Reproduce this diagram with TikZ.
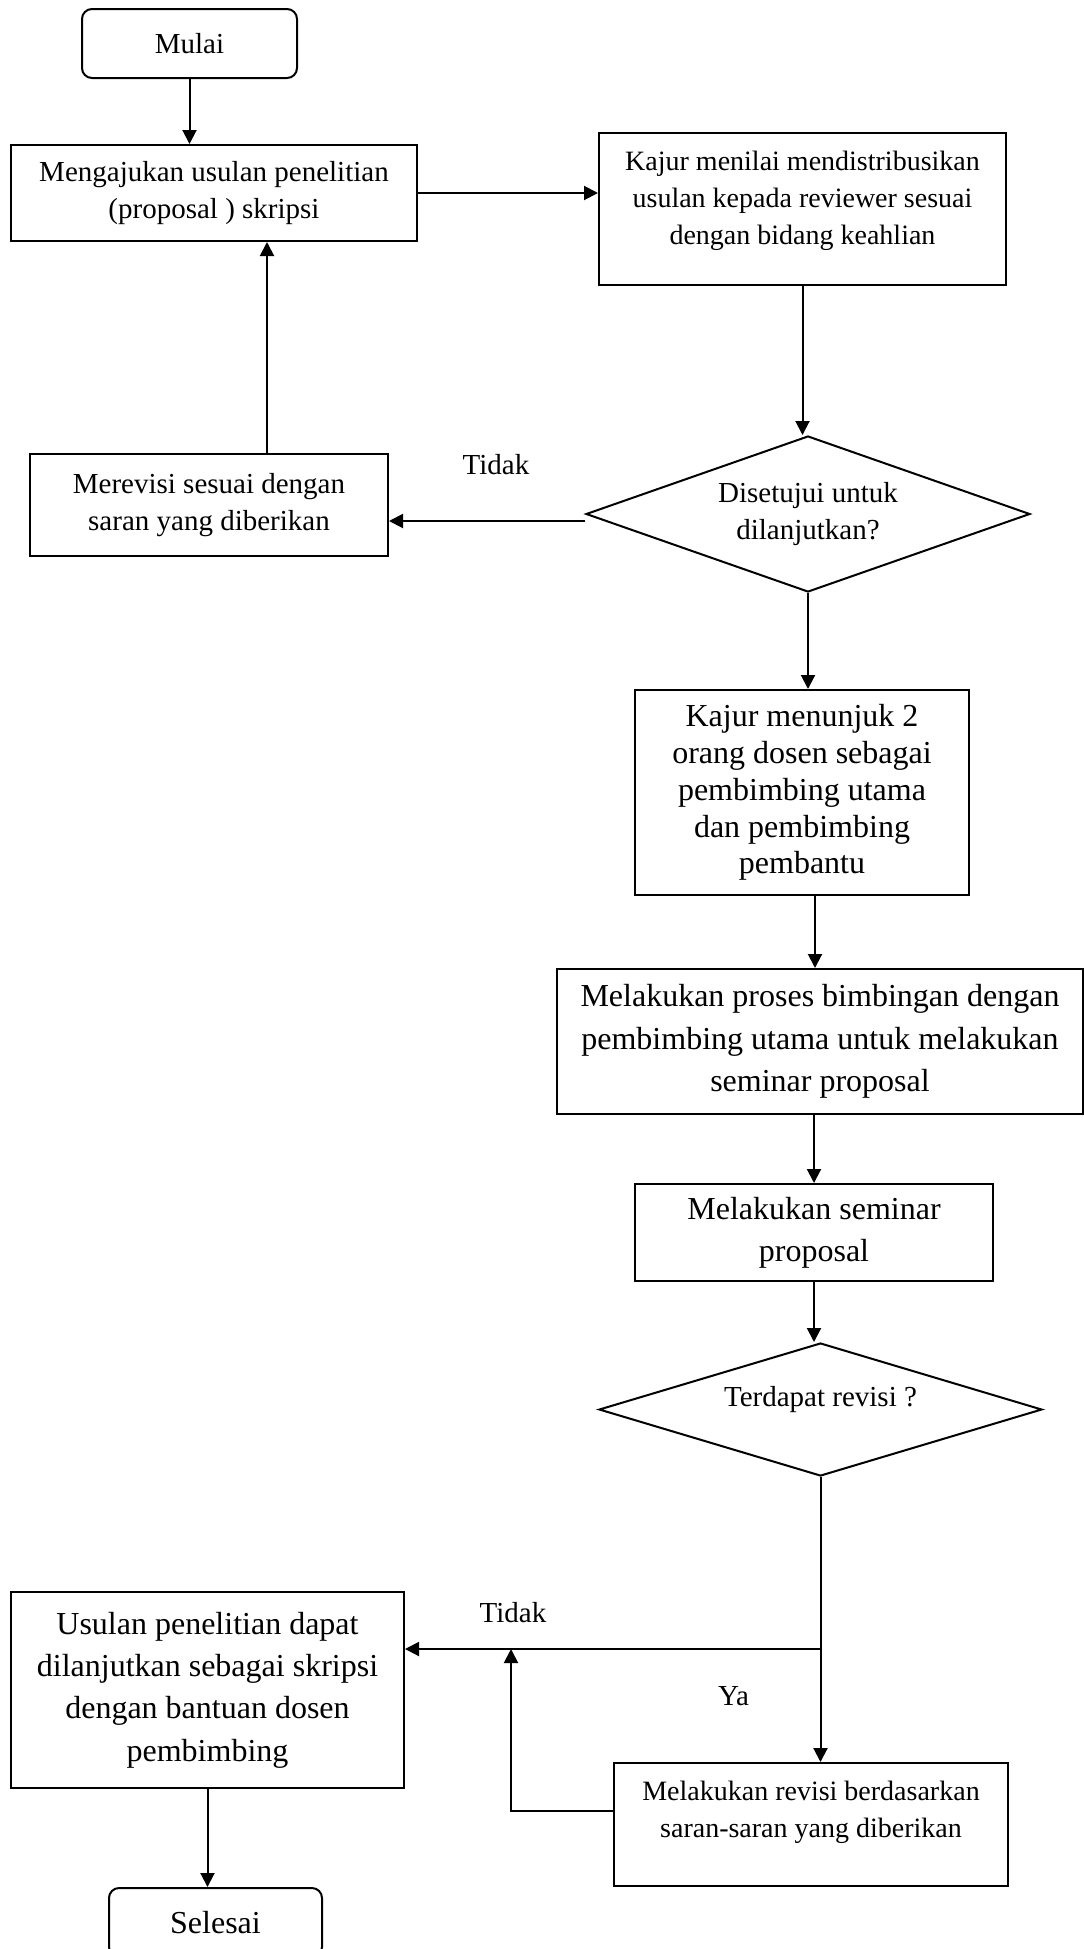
\documentclass[tikz,border=0pt]{standalone}
\usepackage{fontspec}
\setmainfont{Liberation Serif}
\usetikzlibrary{shapes.geometric,arrows.meta}

\newcommand{\fsnorm}{\fontsize{14.5}{18.8}\selectfont}
\newcommand{\fsbig}{\fontsize{16}{21.2}\selectfont}
\newcommand{\fssmall}{\fontsize{14}{18.4}\selectfont}

\begin{document}
\begin{tikzpicture}[x=0.5pt,y=-0.5pt,
  every path/.style={line width=1pt},
  >={Triangle[length=7pt,width=7pt]},
  box/.style={draw,align=center,inner sep=2pt,font=\fsnorm},
  term/.style={box,rounded corners=5pt},
  dec/.style={draw,diamond,align=center,inner sep=1pt,font=\fsnorm},
  lbl/.style={font=\fsnorm}]
\useasboundingbox (0,0) rectangle (1083,1949);

\node[term,minimum width=107.5pt,minimum height=34.5pt] (mulai) at (189.5,43.5) {Mulai};
\node[box,minimum width=203pt,minimum height=48pt] (usul) at (214,193) {Mengajukan usulan penelitian\\(proposal ) skripsi};
\node[box,minimum width=203.5pt,minimum height=76pt,font=\fssmall,text depth=11pt] (kajur) at (802.5,209) {Kajur menilai mendistribusikan\\usulan kepada reviewer sesuai\\dengan bidang keahlian};
\node[dec,minimum width=222pt,minimum height=78pt,aspect=2.85] (setuju) at (808,514) {Disetujui untuk\\dilanjutkan?};
\node[box,minimum width=179pt,minimum height=51pt] (revisi1) at (209,505) {Merevisi sesuai dengan\\saran yang diberikan};
\node[lbl] (tidak1) at (496,465) {Tidak};

\node[box,minimum width=167pt,minimum height=102.5pt,font=\fontsize{16}{18.4}\selectfont] (tunjuk) at (802,792.5) {Kajur menunjuk 2\\orang dosen sebagai\\pembimbing utama\\dan pembimbing\\pembantu};
\node[box,minimum width=263pt,minimum height=72.5pt,font=\fsbig] (proses) at (820,1041.5) {Melakukan proses bimbingan dengan\\pembimbing utama untuk melakukan\\seminar proposal};
\node[box,minimum width=179pt,minimum height=48.5pt,font=\fsbig] (seminar) at (814,1232.5) {Melakukan seminar\\proposal};
\node[dec,minimum width=221.5pt,minimum height=66.5pt,aspect=3.33,text depth=13pt] (adarevisi) at (820.5,1409.5) {Terdapat revisi ?};

\node[box,minimum width=196.5pt,minimum height=98pt,font=\fsbig] (lanjut) at (207.5,1690) {Usulan penelitian dapat\\dilanjutkan sebagai skripsi\\dengan bantuan dosen\\pembimbing};
\node[box,minimum width=197pt,minimum height=61.5pt,font=\fssmall,text depth=15pt] (revisi2) at (811,1824.5) {Melakukan revisi berdasarkan\\saran-saran yang diberikan};
\node[term,minimum width=106.5pt,minimum height=34.5pt,font=\fsbig] (selesai) at (215.5,1922.5) {Selesai};
\node[lbl] (tidak2) at (513,1612.5) {Tidak};
\node[lbl] (ya) at (733.5,1696.5) {Ya};

\coordinate (cabang) at (820.5,1649);
\coordinate (naik) at (511,1649);

\draw[->] (mulai.south) -- (mulai.south |- usul.north);
\draw[->] (usul.east) -- (usul.east -| kajur.west);
\draw[->] (kajur.south) -- (kajur.south |- setuju.north);
\draw[->] ([yshift=-3.5pt]setuju.west) -- ([yshift=-3.5pt]setuju.west -| revisi1.east);
\draw[->] ([xshift=29pt]revisi1.north) -- ([xshift=29pt]revisi1.north |- usul.south);
\draw[->] (setuju.south) -- (setuju.south |- tunjuk.north);
\draw[->] ([xshift=6.5pt]tunjuk.south) -- ([xshift=6.5pt]tunjuk.south |- proses.north);
\draw[->] (proses.south -| seminar.north) -- (seminar.north);
\draw[->] (seminar.south) -- (seminar.south |- adarevisi.north);
\draw[->] (adarevisi.south) -- (adarevisi.south |- revisi2.north);
\draw[->] (cabang) -- (cabang -| lanjut.east);
\draw[->] ([yshift=7pt]revisi2.west) -| (naik);
\draw[->] (lanjut.south) -- (lanjut.south |- selesai.north);
\end{tikzpicture}
\end{document}
